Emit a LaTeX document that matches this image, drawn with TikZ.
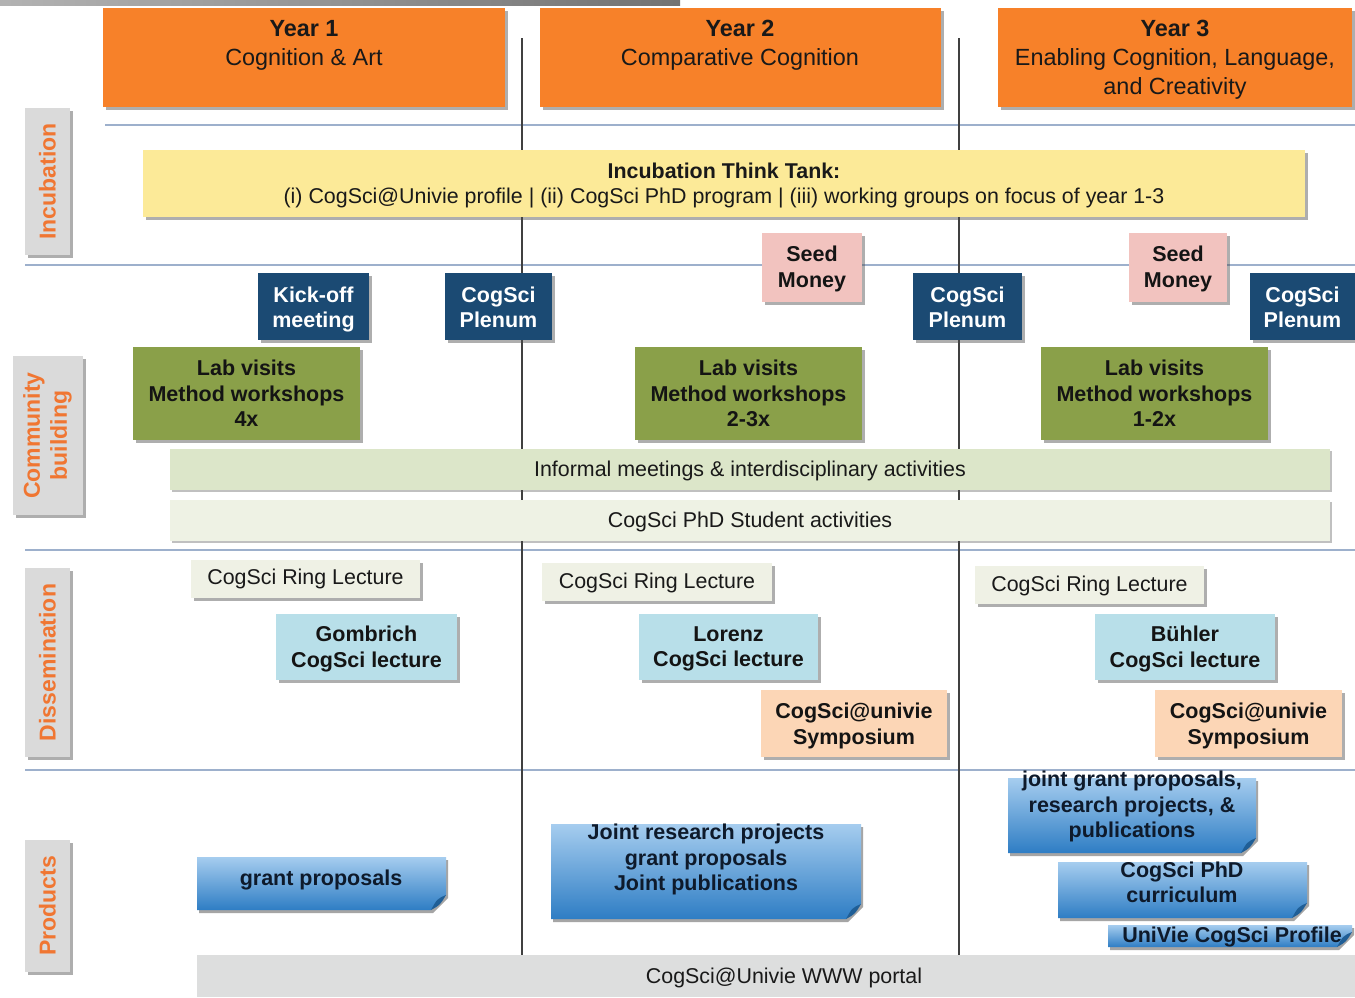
\documentclass[tikz,border=0pt]{standalone}
\usepackage{fontspec}
\setmainfont{Liberation Sans}
\usepackage{graphicx}
\usetikzlibrary{shadows}
\definecolor{yorange}{HTML}{F78129}
\definecolor{tank}{HTML}{FCEA98}
\definecolor{navy}{HTML}{1B4A73}
\definecolor{seed}{HTML}{F2C3BF}
\definecolor{labgreen}{HTML}{8AA049}
\definecolor{informal}{HTML}{DCE6C9}
\definecolor{phdact}{HTML}{EEF2E4}
\definecolor{ring}{HTML}{EFF1E5}
\definecolor{lecture}{HTML}{B8DFE9}
\definecolor{symp}{HTML}{FCD6B6}
\definecolor{prodtop}{HTML}{A6CDEF}
\definecolor{prodbot}{HTML}{2E7DC4}
\definecolor{folddark}{HTML}{1F5E96}
\definecolor{sidegray}{HTML}{DADADA}
\definecolor{sidetext}{HTML}{F07632}
\definecolor{sepline}{HTML}{9DB0CC}
\definecolor{portal}{HTML}{DDDEDE}
\definecolor{prodtext}{HTML}{0E1A2B}
\newcommand{\fb}{\fontsize{21.5}{25.5}\selectfont\bfseries}
\newcommand{\fr}{\fontsize{21.4}{25}\selectfont}
% box: #1 box style, #2 text style, #3 name, #4-#7 x1 y1 x2 y2, #8 text y offset, #9 text
\newcommand{\bx}[9]{%
  \node[#1, minimum width={(#6-#4)*1pt}, minimum height={(#7-#5)*1pt}] (#3) at ({(#4+#6)/2},{(#5+#7)/2}) {};
  \node[#2] (#3t) at ({(#4+#6)/2},{(#5+#7)/2+#8}) {#9};}
\newcommand{\prodbox}[5]{%
  \path[top color=prodtop, bottom color=prodbot, drop shadow={shadow xshift=2pt, shadow yshift=-3pt, opacity=0.5, fill=black!70}]
    (#2,#3) -- (#4,#3) -- (#4,{#5-15}) -- ({#4-15},#5) -- (#2,#5) -- cycle;
  \fill[folddark] (#4,{#5-15}) .. controls ({#4-9},{#5-11}) .. ({#4-15},#5) .. controls ({#4-6},{#5-5}) .. (#4,{#5-15}) -- cycle;
  \coordinate (#1) at ({(#2+#4)/2},{(#3+#5)/2});}
\tikzset{
  box/.style={draw=none, inner sep=0pt, outer sep=0pt,
    drop shadow={shadow xshift=3pt, shadow yshift=-3pt, opacity=0.45, fill=black!70}},
  lightbox/.style={draw=none, inner sep=0pt, outer sep=0pt,
    drop shadow={shadow xshift=2pt, shadow yshift=-2pt, opacity=0.35, fill=black!70}},
  txt/.style={inner sep=0pt, align=center},
  boldtxt/.style={txt, text=black!92, font=\fb},
  regtxt/.style={txt, text=black!90, font=\fr},
  whitetxt/.style={txt, text=white, font=\fb},
  sidetxt/.style={txt, text=sidetext, font=\fontsize{23}{27}\selectfont\bfseries},
  yearbox/.style={box, fill=yorange},
  tankbox/.style={box, fill=tank},
  navybox/.style={box, fill=navy},
  seedbox/.style={box, fill=seed},
  labbox/.style={box, fill=labgreen},
  informalbox/.style={lightbox, fill=informal},
  phdbox/.style={lightbox, fill=phdact},
  ringbox/.style={box, fill=ring},
  lecturebox/.style={box, fill=lecture},
  sympbox/.style={box, fill=symp},
  sidebox/.style={box, fill=sidegray},
  portalbox/.style={draw=none, fill=portal, inner sep=0pt, outer sep=0pt},
  prodtxt/.style={txt, text=prodtext, font=\fb},
  yeartxt/.style={txt, text=black!90, font=\fontsize{23.4}{29}\selectfont},
  sep/.style={draw=sepline, line width=1.2pt},
  vline/.style={draw=black!75, line width=1.3pt}
}
\begin{document}
\begin{tikzpicture}[x=1pt,y=-1pt]
\useasboundingbox (0,0) rectangle (1355,997);
\fill[white] (0,0) rectangle (1355,997);
% top bar
\shade[left color=black!30, right color=black!55] (0,0) rectangle (680,5);
% separators
\coordinate (s1a) at (105,125); \coordinate (s1b) at (1355,125);
\coordinate (s2a) at (25,265);  \coordinate (s2b) at (1355,265);
\coordinate (s3a) at (25,550);  \coordinate (s3b) at (1355,550);
\coordinate (s4a) at (25,770);  \coordinate (s4b) at (1355,770);
\draw[sep] (s1a) -- (s1b);
\draw[sep] (s2a) -- (s2b);
\draw[sep] (s3a) -- (s3b);
\draw[sep] (s4a) -- (s4b);
% vertical year dividers
\coordinate (v1a) at (522,38); \coordinate (v1b) at (522,955);
\coordinate (v2a) at (959,38); \coordinate (v2b) at (959,955);
\draw[vline] (v1a) -- (v1b);
\draw[vline] (v2a) -- (v2b);
% year headers
\node[yearbox, minimum width=402pt, minimum height=99pt] (y1) at (304,57.5) {};
\node[yearbox, minimum width=401pt, minimum height=99pt] (y2) at (740.5,57.5) {};
\node[yearbox, minimum width=354pt, minimum height=99pt] (y3) at (1175,57.5) {};
\node[yeartxt, anchor=north] (y1t) at (304,20) {\textbf{Year 1}\\Cognition \& Art};
\node[yeartxt, anchor=north] (y2t) at (740,20) {\textbf{Year 2}\\Comparative Cognition};
\node[yeartxt, anchor=north] (y3t) at (1175,20) {\textbf{Year 3}\\Enabling Cognition, Language,\\and Creativity};
% side labels
\bx{sidebox}{sidetxt}{sinc}{25}{108}{70}{255}{0}{\rotatebox{90}{Incubation}}
\bx{sidebox}{sidetxt}{scom}{13}{356}{83}{515}{0}{\rotatebox{90}{\begin{tabular}{@{}c@{}}Community\\building\end{tabular}}}
\bx{sidebox}{sidetxt}{sdis}{25}{568}{70}{757}{0}{\rotatebox{90}{Dissemination}}
\bx{sidebox}{sidetxt}{sprod}{25}{840}{70}{972}{0}{\rotatebox{90}{Products}}
% incubation
\bx{tankbox}{regtxt}{tank}{143}{150}{1305}{217}{2.5}{\textbf{Incubation Think Tank:}\\(i) CogSci@Univie profile | (ii) CogSci PhD program | (iii) working groups on focus of year 1-3}
% community building
\bx{navybox}{whitetxt}{kick}{258}{273}{369}{340}{3}{Kick-off\\meeting}
\bx{navybox}{whitetxt}{plen1}{445}{273}{552}{340}{1}{CogSci\\Plenum}
\bx{seedbox}{boldtxt}{seed1}{762}{233}{862}{302}{1.5}{Seed\\Money}
\bx{navybox}{whitetxt}{plen2}{913}{273}{1022}{340}{1}{CogSci\\Plenum}
\bx{seedbox}{boldtxt}{seed2}{1129}{233}{1227}{302}{1.5}{Seed\\Money}
\bx{navybox}{whitetxt}{plen3}{1250}{273}{1355}{340}{1}{CogSci\\Plenum}
\bx{labbox}{boldtxt}{lab1}{133}{347}{360}{440}{0}{Lab visits\\Method workshops\\4x}
\bx{labbox}{boldtxt}{lab2}{635}{347}{862}{440}{0}{Lab visits\\Method workshops\\2-3x}
\bx{labbox}{boldtxt}{lab3}{1041}{347}{1268}{440}{0}{Lab visits\\Method workshops\\1-2x}
\bx{informalbox}{regtxt}{inf}{170}{449}{1330}{490}{1.5}{Informal meetings \& interdisciplinary activities}
\bx{phdbox}{regtxt}{phd}{170}{500}{1330}{541}{1.5}{CogSci PhD Student activities}
% dissemination
\bx{ringbox}{regtxt}{ring1}{191}{560}{420}{598}{0}{CogSci Ring Lecture}
\bx{ringbox}{regtxt}{ring2}{542}{563}{772}{601}{1}{CogSci Ring Lecture}
\bx{ringbox}{regtxt}{ring3}{975}{566}{1204}{604}{1}{CogSci Ring Lecture}
\bx{lecturebox}{boldtxt}{gomb}{276}{614}{457}{680}{2}{Gombrich\\CogSci lecture}
\bx{lecturebox}{boldtxt}{lor}{639}{614}{818}{680}{2}{Lorenz\\CogSci lecture}
\bx{lecturebox}{boldtxt}{bue}{1095}{614}{1275}{680}{2}{Bühler\\CogSci lecture}
\bx{sympbox}{boldtxt}{symp1}{761}{690}{947}{757}{2.5}{CogSci@univie\\Symposium}
\bx{sympbox}{boldtxt}{symp2}{1155}{690}{1342}{757}{2.5}{CogSci@univie\\Symposium}
% products
\prodbox{gp}{197}{857}{446}{910}
\node[prodtxt] (gpt) at (321,879.5) {grant proposals};
\prodbox{jr}{551}{824}{861}{919}
\node[prodtxt] (jrt) at (706,859.5) {Joint research projects\\grant proposals\\Joint publications};
\prodbox{jg}{1008}{778}{1256}{853}
\node[prodtxt] (jgt) at (1132,806.5) {joint grant proposals,\\research projects, \&\\publications};
\prodbox{pc}{1058}{862}{1307}{918}
\node[prodtxt] (pct) at (1182,882.5) {CogSci PhD\\curriculum};
\prodbox{up}{1108}{925}{1352}{947}
\node[prodtxt] (upt) at (1232,936.5) {UniVie CogSci Profile};
% portal
\node[portalbox, minimum width=1158pt, minimum height=42pt] (portal) at (776,976) {};
\node[regtxt] (portalt) at (784,977.5) {CogSci@Univie WWW portal};
\end{tikzpicture}
\end{document}
